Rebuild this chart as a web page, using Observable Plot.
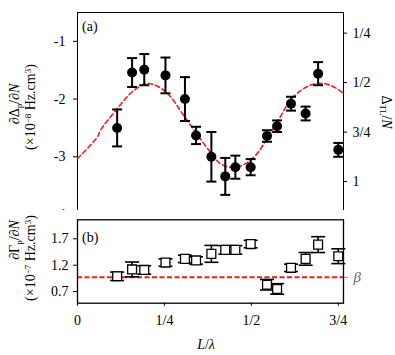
<!DOCTYPE html>
<html><head><meta charset="utf-8">
<script src="https://cdn.jsdelivr.net/npm/d3@7"></script>
<script src="https://cdn.jsdelivr.net/npm/@observablehq/plot@0.6"></script>
<style>
body{margin:0;background:#fff;}
#wrap{position:relative;width:395px;height:355px;overflow:hidden;font-family:'Liberation Serif',serif;}
#wrap svg{position:absolute;left:0;}
</style></head>
<body><div id="wrap"></div>
<script>
// ---- data ----
const xs = [0.114,0.157,0.192,0.253,0.309,0.341,0.385,0.425,0.454,0.498,0.545,0.574,0.614,0.656,0.692,0.750];
const shiftVals = [-2.50,-1.54,-1.49,-1.59,-2.00,-2.63,-3.00,-3.34,-3.18,-3.18,-2.64,-2.47,-2.08,-2.25,-1.56,-2.88];
const shiftErrs = [0.32,0.25,0.27,0.31,0.38,0.15,0.43,0.32,0.20,0.14,0.10,0.10,0.12,0.12,0.20,0.12];
const widthVals = [0.99,1.12,1.11,1.25,1.32,1.29,1.415,1.49,1.49,1.60,0.83,0.75,1.15,1.32,1.59,1.37];
const widthErrs = [0.08,0.14,0.08,0.07,0.07,0.07,0.16,0.08,0.08,0.07,0.10,0.10,0.07,0.12,0.15,0.14];
// red dashed fit curve
const fitX = [0,0.057,0.066,0.114,0.162,0.204,0.253,0.305,0.339,0.382,0.411,0.440,0.473,0.507,0.545,0.583,0.612,0.650,0.689,0.727,0.765];
const fitY = [-3.03,-2.66,-2.54,-2.17,-1.85,-1.73,-1.87,-2.28,-2.57,-2.92,-3.12,-3.18,-3.15,-3.01,-2.69,-2.31,-2.02,-1.82,-1.73,-1.76,-1.90];
const betaLevel = 0.97;
const xTicks = [0, 0.25, 0.5, 0.75];
const xTickLabels = ["0", "1/4", "1/2", "3/4"];
const leftTicksA = [-4, -3, -2, -1];
const rightTicksA = [0.25, 0.5, 0.75, 1];
const rightTickLabelsA = ["1/4", "1/2", "3/4", "1"];
const rightScaleFactor = 3.43; // Δ_TL/N axis: left value = -factor * right value
const leftTicksB = [0.7, 1.2, 1.7];

const shiftData = xs.map((x,i)=>({x, v: shiftVals[i], e: shiftErrs[i]}));
const widthData = xs.map((x,i)=>({x, v: widthVals[i], e: widthErrs[i]}));
const fitData = fitX.map((x,i)=>({x, y: fitY[i]}));

const FF = "'Liberation Serif', 'DejaVu Serif', serif";
const capSymbol = {draw(ctx, size){ const r = Math.sqrt(size/Math.PI); ctx.moveTo(-r,0); ctx.lineTo(r,0); }};
const font = {fontFamily: FF, fontSize:"14px", color:"black", background:"white", overflow:"visible"};
const xDomain = [0, 0.765];
const red = "#ee1c1c";

const wrap = document.getElementById("wrap");

// ---- panel (a) ----
const plotA = Plot.plot({
  width: 395, height: 220, marginLeft: 77, marginRight: 52, marginTop: 12, marginBottom: 6,
  style: font,
  x: {domain: xDomain},
  y: {domain: [-4, -0.5]},
  marks: [
    Plot.frame({stroke: "black", strokeWidth: 1}),
    Plot.ruleY([-4], {stroke: "#8a8a8a", strokeWidth: 1.6, x1: -0.006, x2: 0.765}),
    Plot.axisY(leftTicksA, {anchor: "left", tickSize: 4, tickPadding: 8, label: null, tickFormat: d => String(d), fontSize: 14}),
    Plot.axisY(rightTicksA.map(r => -rightScaleFactor*r), {anchor: "right", tickSize: 3, tickPadding: 6, label: null, tickFormat: (d,i) => rightTickLabelsA[i], fontSize: 14}),
    Plot.axisX([0.25, 0.5, 0.75], {anchor: "bottom", tickSize: 3, tickFormat: () => "", label: null, stroke: "#555"}),
    Plot.line(fitData, {x: "x", y: "y", curve: "catmull-rom", stroke: red, strokeWidth: 1.6, strokeDasharray: "4.5,3"}),
    Plot.ruleX(shiftData, {x: "x", y1: d => d.v - d.e, y2: d => d.v + d.e, stroke: "black", strokeWidth: 2}),
    Plot.dot(shiftData, {x: "x", y: d => d.v + d.e, symbol: capSymbol, r: 5, stroke: "black", strokeWidth: 2, fill: "none"}),
    Plot.dot(shiftData, {x: "x", y: d => d.v - d.e, symbol: capSymbol, r: 5, stroke: "black", strokeWidth: 2, fill: "none"}),
    Plot.dot(shiftData, {x: "x", y: "v", r: 5, fill: "black", stroke: "none"})
  ]
});
plotA.style.top = "0px";
wrap.appendChild(plotA);

// ---- panel (b) ----
const plotB = Plot.plot({
  width: 395, height: 145, marginLeft: 77, marginRight: 52, marginTop: 9.3, marginBottom: 52.3,
  style: font,
  x: {domain: xDomain},
  y: {domain: [0.48, 2.06]},
  marks: [
    Plot.axisY(leftTicksB, {anchor: "left", tickSize: 4, tickPadding: 5, label: null, tickFormat: d => d.toFixed(1), fontSize: 14}),
    Plot.axisY([betaLevel], {anchor: "right", tickSize: 4, tickPadding: 6, label: null, stroke: "#888", fill: "#666", tickFormat: () => "β", fontStyle: "italic", fontSize: 15}),
    Plot.axisX(xTicks, {anchor: "bottom", tickSize: 3, tickPadding: 9, label: null, tickFormat: (d,i) => xTickLabels[i], fontSize: 14}),
    Plot.ruleY([betaLevel], {stroke: red, strokeWidth: 2, strokeDasharray: "5,2.5"}),
    Plot.ruleX(widthData, {x: "x", y1: d => d.v - d.e, y2: d => d.v + d.e, stroke: "black", strokeWidth: 1.6}),
    Plot.dot(widthData, {x: "x", y: d => d.v + d.e, symbol: capSymbol, r: 7, stroke: "black", strokeWidth: 1.6, fill: "none"}),
    Plot.dot(widthData, {x: "x", y: d => d.v - d.e, symbol: capSymbol, r: 7, stroke: "black", strokeWidth: 1.6, fill: "none"}),
    Plot.dot(widthData, {x: "x", y: "v", symbol: "square", r: 5, fill: "white", stroke: "black", strokeWidth: 1.3}),
    Plot.frame({stroke: "black", strokeWidth: 1.3})
  ]
});
plotB.style.top = "210px";
wrap.appendChild(plotB);

// ---- overlay with axis titles and panel letters ----
const ov = d3.select(wrap).append("svg")
  .attr("width", 395).attr("height", 355)
  .style("top", "0px").style("pointer-events", "none")
  .attr("font-family", FF).attr("font-size", 14).attr("fill", "black");

function rich(g, parts){
  const t = g.append("text").attr("text-anchor", "middle");
  parts.forEach(p => {
    const s = t.append("tspan").text(p.t);
    if (p.dy) s.attr("dy", p.dy);
    if (p.it) s.attr("font-style", "italic");
    if (p.fs) s.attr("font-size", p.fs);
  });
  return t;
}

ov.append("text").attr("x", 82).attr("y", 31).text("(a)");
ov.append("text").attr("x", 82).attr("y", 242).text("(b)");

// left title (a)
let g = ov.append("g").attr("transform", "translate(19,104) rotate(-90)");
rich(g, [{t:"∂Δ"},{t:"p",fs:9,dy:2.5},{t:"/∂",dy:-2.5},{t:"N",it:true}]);
g = ov.append("g").attr("transform", "translate(35,107) rotate(-90)");
rich(g, [{t:"(×10"},{t:"−8",fs:9,dy:-4.5},{t:" Hz.cm",dy:4.5},{t:"3",fs:9,dy:-4.5},{t:")",dy:4.5}]);

// left title (b)
g = ov.append("g").attr("transform", "translate(19,240) rotate(-90)");
rich(g, [{t:"∂Γ"},{t:"p",fs:9,dy:2.5},{t:"/∂",dy:-2.5},{t:"N",it:true}]);
g = ov.append("g").attr("transform", "translate(35,258) rotate(-90)");
rich(g, [{t:"(×10"},{t:"−7",fs:9,dy:-4.5},{t:" Hz.cm",dy:4.5},{t:"3",fs:9,dy:-4.5},{t:")",dy:4.5}]);

// right title (a)
g = ov.append("g").attr("transform", "translate(382,112) rotate(90)");
rich(g, [{t:"Δ"},{t:"TL",fs:9,dy:2.5},{t:"/",dy:-2.5},{t:"N",it:true}]);

// x title
g = ov.append("g").attr("transform", "translate(206,349)");
rich(g, [{t:"L",it:true},{t:"/"},{t:"λ",it:true}]);
</script>
</body></html>
